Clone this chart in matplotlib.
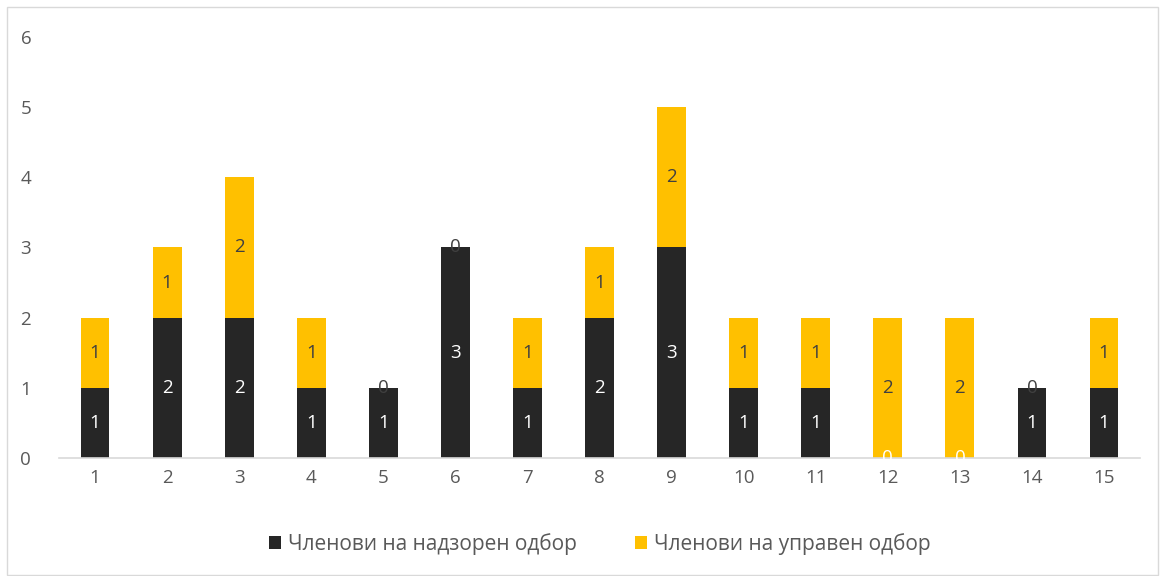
import matplotlib.pyplot as plt
import numpy as np

plt.rcParams['font.family'] = ['Open Sans', 'DejaVu Sans']

categories = [str(i) for i in range(1, 16)]
nadzoren = [1, 2, 2, 1, 1, 3, 1, 2, 3, 1, 1, 0, 0, 1, 1]
upraven = [1, 1, 2, 1, 0, 0, 1, 1, 2, 1, 1, 2, 2, 0, 1]
series_names = ["Членови на надзорен одбор", "Членови на управен одбор"]

BLACK = "#262626"
YELLOW = "#FFC000"
FS = 13.5

fig = plt.figure(figsize=(11.61, 5.76), dpi=100)
ax = fig.add_axes([0.0508, 0.2049, 0.9312, 0.7309])

x = np.arange(1, 16)
w = 0.4
b1 = ax.bar(x, nadzoren, w, color=BLACK, label=series_names[0], zorder=2)
b2 = ax.bar(x, upraven, w, bottom=nadzoren, color=YELLOW, label=series_names[1], zorder=2)

ax.bar_label(b1, labels=[str(v) for v in nadzoren], label_type="center",
             color="white", fontsize=FS)
ax.bar_label(b2, labels=[str(v) for v in upraven], label_type="center",
             color="#404040", fontsize=FS)

ax.set_xlim(0.5, 15.5)
ax.set_ylim(0, 6)
ax.set_xticks(x)
ax.set_xticklabels(categories)
ax.set_yticks(range(0, 7))
ax.tick_params(axis="both", length=0, labelsize=FS, labelcolor="#595959")
ax.tick_params(axis="x", pad=8)
ax.tick_params(axis="y", pad=20)
for s in ["top", "right", "left"]:
    ax.spines[s].set_visible(False)
ax.spines["bottom"].set_color("#D9D9D9")
ax.spines["bottom"].set_linewidth(1.2)

leg = ax.legend(loc="center", bbox_to_anchor=(0.5, -0.205), ncol=2, frameon=False,
                fontsize=15, handlelength=0.6, handleheight=0.6,
                columnspacing=2.8, handletextpad=0.3)
for t in leg.get_texts():
    t.set_color("#595959")

fig.patches.append(plt.Rectangle((7 / 1161, 1 / 576), 1151 / 1161, 568 / 576,
                                 transform=fig.transFigure, fill=False,
                                 edgecolor="#D9D9D9", linewidth=1))

fig.savefig("out.png", dpi=100)
